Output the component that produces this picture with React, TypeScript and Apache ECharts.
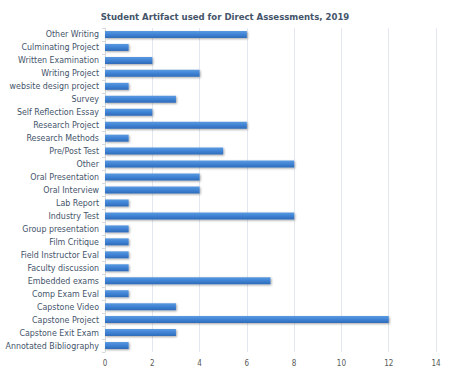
import React, { useEffect, useRef } from "react";
import * as echarts from "echarts";

const categories = [
  "Other Writing",
  "Culminating Project",
  "Written Examination",
  "Writing Project",
  "website design project",
  "Survey",
  "Self Reflection Essay",
  "Research Project",
  "Research Methods",
  "Pre/Post Test",
  "Other",
  "Oral Presentation",
  "Oral Interview",
  "Lab Report",
  "Industry Test",
  "Group presentation",
  "Film Critique",
  "Field Instructor Eval",
  "Faculty discussion",
  "Embedded exams",
  "Comp Exam Eval",
  "Capstone Video",
  "Capstone Project",
  "Capstone Exit Exam",
  "Annotated Bibliography",
];
const values = [6, 1, 2, 4, 1, 3, 2, 6, 1, 5, 8, 4, 4, 1, 8, 1, 1, 1, 1, 7, 1, 3, 12, 3, 1];
const xTicks = { min: 0, max: 14, interval: 2 };
const title = "Student Artifact used for Direct Assessments, 2019";

export default function App() {
  const ref = useRef<HTMLDivElement>(null);
  useEffect(() => {
    const chart = echarts.init(ref.current!, null, { renderer: "svg" });
    const font = "'DejaVu Sans Condensed', 'DejaVu Sans', sans-serif";
    chart.setOption({
      animation: false,
      backgroundColor: "#ffffff",
      title: {
        text: title,
        left: "center",
        top: 6,
        textStyle: { fontFamily: font, fontSize: 9.5, fontWeight: "bold", color: "#44546a" },
      },
      grid: { left: 105, right: 14, top: 28, height: 324, containLabel: false },
      xAxis: {
        type: "value",
        min: xTicks.min,
        max: xTicks.max,
        interval: xTicks.interval,
        axisLine: { show: false },
        axisTick: { show: false },
        splitLine: { lineStyle: { color: "#e3e7f0", width: 1 } },
        axisLabel: { fontFamily: font, fontSize: 8, color: "#595959", margin: 7 },
      },
      yAxis: {
        type: "category",
        data: [...categories].reverse(),
        axisLine: { lineStyle: { color: "#d9d9d9" } },
        axisTick: { show: true, length: 3, lineStyle: { color: "#d9d9d9" } },
        axisLabel: { fontFamily: font, fontSize: 8.8, color: "#44546a", margin: 6 },
      },
      series: [
        {
          type: "bar",
          data: [...values].reverse(),
          barCategoryGap: "46%",
          itemStyle: {
            color: new echarts.graphic.LinearGradient(0, 0, 0, 1, [
              { offset: 0, color: "#5a9ae0" },
              { offset: 0.5, color: "#3f82d4" },
              { offset: 1, color: "#2e6bb8" },
            ]),
            shadowColor: "rgba(0,0,0,0.35)",
            shadowBlur: 2,
            shadowOffsetX: 1,
            shadowOffsetY: 1,
          },
        },
      ],
    });
    return () => chart.dispose();
  }, []);
  return <div ref={ref} style={{ width: 450, height: 372, position: "absolute", left: 0, top: 0 }} />;
}
